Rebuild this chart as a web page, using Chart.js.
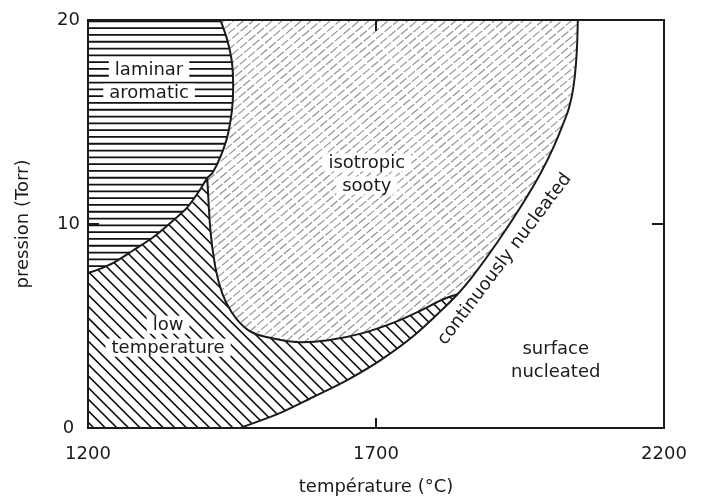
<!DOCTYPE html>
<html><head><meta charset="utf-8">
<script src="https://cdn.jsdelivr.net/npm/chart.js@4/dist/chart.umd.min.js"></script>
<style>html,body{margin:0;padding:0;background:#fff}#wrap{width:704px;height:500px}</style>
</head><body><div id="wrap"><canvas id="c" width="704" height="500"></canvas></div>
<script>
// ---- axes ----
const xTicks = [1200, 1700, 2200];
const yTicks = [0, 10, 20];
const xTitle = 'température (°C)';
const yTitle = 'pression (Torr)';

// ---- boundary curves (temperature °C, pressure Torr) ----
// laminar aromatic boundary: from top edge down to left axis
const laminarEdgeT = [1430, 1442, 1450, 1452, 1450, 1442, 1430, 1416, 1407, 1395, 1372, 1343, 1313, 1278, 1244, 1216, 1200];
const laminarEdgeP = [20, 19.0, 17.9, 16.7, 15.6, 14.3, 13.3, 12.5, 12.25, 11.7, 10.8, 10.05, 9.35, 8.7, 8.1, 7.75, 7.6];
// isotropic sooty lower boundary: from laminar edge to nucleation edge
const isotropicEdgeT = [1407, 1412, 1421, 1433, 1450, 1478, 1520, 1572, 1617, 1677, 1734, 1781, 1812, 1842];
const isotropicEdgeP = [12.25, 9.85, 7.9, 6.6, 5.65, 4.8, 4.4, 4.2, 4.3, 4.65, 5.2, 5.8, 6.25, 6.57];
// continuously / surface nucleated boundary: from bottom edge to top edge
const nucleationEdgeT = [1464, 1534, 1591, 1650, 1708, 1765, 1807, 1842, 1864, 1911, 1951, 1986, 2009, 2024, 2035, 2042, 2047, 2049.5, 2050.4];
const nucleationEdgeP = [0, 0.74, 1.52, 2.35, 3.33, 4.51, 5.59, 6.57, 7.3, 9.12, 10.83, 12.5, 13.82, 14.85, 15.69, 16.57, 17.79, 19.02, 20];

// ---- region labels ----
const labelTexts = [['laminar', 'aromatic'], ['isotropic', 'sooty'], ['low', 'temperature'], ['surface', 'nucleated'], ['continuously nucleated']];
const labelT = [1306, 1684, 1339, 2012, 1922];
const labelP = [17.0, 12.45, 4.5, 3.35, 8.3];

const zip = (T, P) => T.map((t, i) => ({x: t, y: P[i]}));
const A = zip(laminarEdgeT, laminarEdgeP);
const B = zip(isotropicEdgeT, isotropicEdgeP);
const C = zip(nucleationEdgeT, nucleationEdgeP);
const J1 = A.findIndex(p => p.x === B[0].x && p.y === B[0].y);
const J2 = C.findIndex(p => p.x === B[B.length - 1].x && p.y === B[B.length - 1].y);

const regions = {
  laminar: [{x: 1200, y: 20}, ...A],
  isotropic: [...C.slice(J2).reverse(), ...B.slice().reverse(), ...A.slice(0, J1 + 1).reverse()],
  lowTemp: [{x: 1200, y: 0}, ...C.slice(0, J2 + 1), ...B.slice().reverse(), ...A.slice(J1)]
};

const FONT = 'DejaVu Sans';
const INK = '#1b1b1b';

function hatch(ctx, area, angleDeg, spacing, color, width, dash, phase) {
  const a = angleDeg * Math.PI / 180;
  const dx = Math.cos(a), dy = -Math.sin(a);
  const nx = -dy, ny = dx;
  const cx = (area.left + area.right) / 2, cy = (area.top + area.bottom) / 2;
  const R = Math.hypot(area.right - area.left, area.bottom - area.top);
  ctx.strokeStyle = color; ctx.lineWidth = width; ctx.setLineDash(dash || []);
  ctx.beginPath();
  for (let k = -R + (phase || 0); k <= R; k += spacing) {
    const ox = cx + nx * k, oy = cy + ny * k;
    ctx.moveTo(ox - dx * R, oy - dy * R);
    ctx.lineTo(ox + dx * R, oy + dy * R);
  }
  ctx.stroke();
  ctx.setLineDash([]);
}

const phasePlugin = {
  id: 'phase',
  beforeDraw(chart) {
    const ctx = chart.ctx;
    ctx.save(); ctx.fillStyle = '#fff'; ctx.fillRect(0, 0, chart.width, chart.height); ctx.restore();
  },
  beforeDatasetsDraw(chart) {
    const {ctx, chartArea: area, scales: {x, y}} = chart;
    const path = (pts) => {
      ctx.beginPath();
      pts.forEach((p, i) => {
        const X = x.getPixelForValue(p.x), Y = y.getPixelForValue(p.y);
        if (i === 0) ctx.moveTo(X, Y); else ctx.lineTo(X, Y);
      });
      ctx.closePath();
    };
    const styles = [
      ['isotropic', 40, 6.2, '#919191', 1.15, [9, 2]],
      ['lowTemp', -45, 8.2, '#111', 1.6, null],
      ['laminar', 0, 6.8, '#111', 1.8, null]
    ];
    for (const [key, ang, sp, col, w, dash] of styles) {
      ctx.save();
      path(regions[key]);
      ctx.clip();
      hatch(ctx, area, ang, sp, col, w, dash, 0);
      ctx.restore();
    }
  },
  afterDatasetsDraw(chart) {
    const {ctx, chartArea: area, scales: {x, y}} = chart;
    ctx.save();
    // frame
    ctx.strokeStyle = INK; ctx.lineWidth = 2;
    ctx.strokeRect(area.left, area.top, area.right - area.left, area.bottom - area.top);
    // inward ticks for interior tick values
    ctx.lineWidth = 2;
    ctx.beginPath();
    xTicks.slice(1, -1).forEach(v => {
      const X = x.getPixelForValue(v);
      ctx.moveTo(X, area.bottom); ctx.lineTo(X, area.bottom - 10);
      ctx.moveTo(X, area.top); ctx.lineTo(X, area.top + 11);
    });
    yTicks.slice(1, -1).forEach(v => {
      const Y = y.getPixelForValue(v);
      ctx.moveTo(area.left, Y); ctx.lineTo(area.left + 11, Y);
      ctx.moveTo(area.right, Y); ctx.lineTo(area.right - 12, Y);
    });
    ctx.stroke();
    // labels
    ctx.font = '18px "' + FONT + '"';
    ctx.textAlign = 'center'; ctx.textBaseline = 'middle';
    labelTexts.forEach((lines, i) => {
      const X = x.getPixelForValue(labelT[i]), Y = y.getPixelForValue(labelP[i]);
      const lh = 23;
      const rotated = i === 4;
      const boxed = i <= 2;
      ctx.save();
      ctx.translate(X, Y);
      if (rotated) ctx.rotate(-53 * Math.PI / 180);
      lines.forEach((t, k) => {
        const ly = (k - (lines.length - 1) / 2) * lh;
        if (boxed) {
          const w = ctx.measureText(t).width + 12;
          ctx.fillStyle = '#fff';
          ctx.fillRect(-w / 2, ly - 9, w, 18);
        }
        ctx.fillStyle = INK;
        ctx.fillText(t, 0, ly + 1);
      });
      ctx.restore();
    });
    ctx.restore();
  }
};

const curveStyle = {showLine: true, pointRadius: 0, borderColor: INK, borderWidth: 2, fill: false};

new Chart(document.getElementById('c'), {
  type: 'scatter',
  data: {
    datasets: [
      {label: 'laminar', data: A, ...curveStyle, tension: 0.3},
      {label: 'isotropic', data: B, ...curveStyle, cubicInterpolationMode: 'monotone'},
      {label: 'nucleation', data: C, ...curveStyle, cubicInterpolationMode: 'monotone'}
    ]
  },
  options: {
    responsive: false,
    animation: false,
    devicePixelRatio: 1,
    layout: {padding: {top: 20, right: 40, left: 0, bottom: 0}},
    plugins: {legend: {display: false}, tooltip: {enabled: false}},
    scales: {
      x: {
        type: 'linear', min: 1200, max: 2200,
        afterBuildTicks: s => { s.ticks = xTicks.map(v => ({value: v})); },
        afterFit: s => { s.height = 72; },
        grid: {display: false, drawTicks: false},
        border: {display: false},
        ticks: {color: INK, font: {family: FONT, size: 18}, padding: 16, maxRotation: 0, autoSkip: false, callback: v => String(v)},
        title: {display: true, text: xTitle, color: INK, font: {family: FONT, size: 18}, padding: {top: 0, bottom: 2}}
      },
      y: {
        type: 'linear', min: 0, max: 20,
        afterBuildTicks: s => { s.ticks = yTicks.map(v => ({value: v})); },
        afterFit: s => { s.width = 88; },
        grid: {display: false, drawTicks: false},
        border: {display: false},
        ticks: {color: INK, font: {family: FONT, size: 18}, padding: 8, crossAlign: 'center', autoSkip: false, callback: v => String(v)},
        title: {display: true, text: yTitle, color: INK, font: {family: FONT, size: 18}, padding: {top: 13, bottom: 0}}
      }
    }
  },
  plugins: [phasePlugin]
});
</script>
</body></html>
